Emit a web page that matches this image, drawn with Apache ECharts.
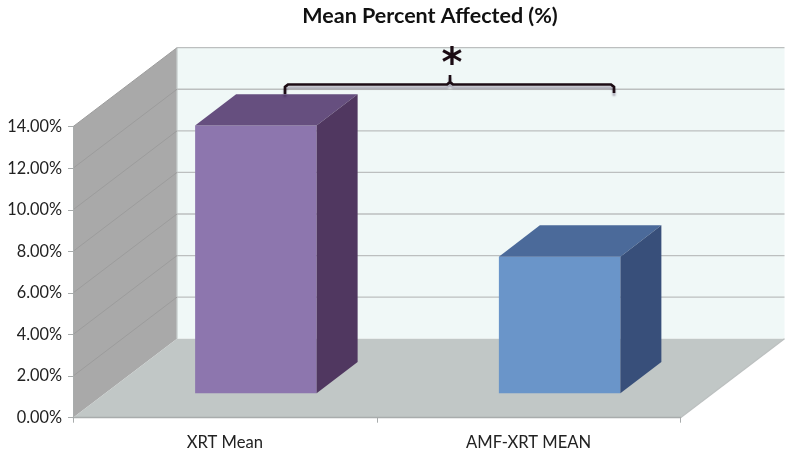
<!DOCTYPE html>
<html>
<head>
<meta charset="utf-8">
<style>html,body{margin:0;padding:0;background:#fff}#c{width:800px;height:452px}</style>
<script src="https://cdn.jsdelivr.net/npm/echarts@6/dist/echarts.min.js"></script>
</head>
<body>
<div id="c"></div>
<script>
const categories = ['XRT Mean', 'AMF-XRT MEAN'];
const affected = [12.88, 6.57];
const yTicks = [2, 4, 6, 8, 10, 12, 14];
const titleText = 'Mean Percent Affected (%)';
const star = '*';

const FONT = 'Lato';
const WALL = [104, -79];      // depth of the chart box
const BASE = [31, -24.4];     // where the bars stand on the floor
const BAR = [41, -31.4];      // depth of each bar
const FACES = [
  {front: '#8d76ae', top: '#664f7f', side: '#503760'},
  {front: '#6a95c9', top: '#4b6a9a', side: '#384f7a'}
];
const poly = (points, fill, z2) => ({type: 'polygon', z2, shape: {points}, style: {fill}});
const line = (points, stroke, z2, w) => ({type: 'polyline', z2, shape: {points}, style: {fill: 'none', stroke, lineWidth: w || 1.3}});

function renderBox(params, api) {
  const g = params.coordSys, x0 = g.x, x1 = g.x + g.width, y0 = g.y, y1 = g.y + g.height;
  const [dx, dy] = WALL;
  return {type: 'group', silent: true, children: [
    poly([[x0 + dx, y0 + dy], [x1 + dx, y0 + dy], [x1 + dx, y1 + dy], [x0 + dx, y1 + dy]], '#f0f8f7', 1),
    poly([[x0, y0], [x0 + dx, y0 + dy], [x0 + dx, y1 + dy], [x0, y1]], '#a9a9a9', 2),
    poly([[x0, y1], [x1, y1], [x1 + dx, y1 + dy], [x0 + dx, y1 + dy]], '#c1c7c6', 2),
    line([[x1, y1], [x1 + dx, y1 + dy]], '#bcc0c0', 3),
    line([[x0 + dx, y0 + dy], [x0 + dx, y1 + dy]], '#c6cccc', 3)
  ]};
}
function renderGrid(params, api) {
  const g = params.coordSys, x0 = g.x, x1 = g.x + g.width;
  const y = api.coord([0, api.value(0)])[1];
  const [dx, dy] = WALL;
  return {type: 'group', silent: true, children: [
    line([[x0, y], [x0 + dx, y + dy]], '#9c9c9c', 4, 1),
    line([[x0 + dx, y + dy], [x1 + dx, y + dy]], '#bcbfbf', 4)
  ]};
}
function renderBar(params, api) {
  const i = api.value(0), c = FACES[i];
  const top = api.coord([i, api.value(1)]), bot = api.coord([i, 0]);
  const w = api.size([1, 0])[0] * 0.4;
  const xl = top[0] - w / 2 + BASE[0], xr = xl + w;
  const yt = top[1] + BASE[1], yb = bot[1] + BASE[1];
  const [bx, by] = BAR;
  return {type: 'group', children: [
    poly([[xl, yt], [xr, yt], [xr, yb], [xl, yb]], c.front, 3),
    poly([[xl, yt], [xl + bx, yt + by], [xr + bx, yt + by], [xr, yt]], c.top, 3),
    poly([[xr, yt], [xr + bx, yt + by], [xr + bx, yb + by], [xr, yb]], c.side, 3)
  ]};
}

const chart = echarts.init(document.getElementById('c'), null, {renderer: 'canvas'});
chart.setOption({
  animation: false,
  backgroundColor: '#ffffff',
  title: {
    text: titleText, left: 425, top: 0, textAlign: 'center',
    textStyle: {fontFamily: FONT, fontWeight: 'bold', fontSize: 21.5, color: '#111111'}
  },
  grid: {left: 73, right: 119.5, top: 126.7, bottom: 34.3, containLabel: false},
  xAxis: {
    type: 'category', data: categories, z: 5,
    axisLine: {lineStyle: {color: '#a8acac', width: 1.3}},
    axisTick: {show: true, alignWithLabel: false, length: 5, lineStyle: {color: '#a8acac'}},
    axisLabel: {fontFamily: FONT, fontSize: 16.6, color: '#222222', margin: 16}
  },
  yAxis: {
    type: 'value', min: 0, max: 14, interval: 2, z: 5,
    splitLine: {show: false},
    axisLine: {show: true, lineStyle: {color: '#a8acac'}},
    axisTick: {show: true, length: 5, lineStyle: {color: '#a8acac'}},
    axisLabel: {fontFamily: FONT, fontSize: 16.3, color: '#222222', margin: 11, padding: [3, 0, 0, 0],
      formatter: v => v.toFixed(2) + '%'}
  },
  series: [
    {type: 'custom', z: 1, clip: false, silent: true, renderItem: renderBox, data: [[0]]},
    {type: 'custom', z: 2, clip: false, silent: true, renderItem: renderGrid, data: yTicks.map(v => [v]),
      encode: {y: 0}},
    {type: 'custom', z: 3, clip: false, renderItem: renderBar, encode: {x: 0, y: 1},
      data: affected.map((v, i) => [i, v])}
  ],
  graphic: [
    {type: 'polyline', z: 20, shape: {points: [[285, 94], [285, 87], [288, 84.5], [447, 84.5], [450, 82], [450, 75], [450, 82], [453, 84.5], [611, 84.5], [614, 87], [614, 93]]},
      style: {fill: 'none', stroke: '#1c0c14', lineWidth: 2.7, shadowColor: 'rgba(40,20,60,0.35)', shadowBlur: 2, shadowOffsetY: 3}},
    {type: 'text', z: 21, x: 452, y: 66, style: {text: star, fontFamily: 'DejaVu Sans', fontWeight: 'bold', fontSize: 40, fill: '#1c0c14', align: 'center', verticalAlign: 'middle'}}
  ]
});
</script>
</body>
</html>
